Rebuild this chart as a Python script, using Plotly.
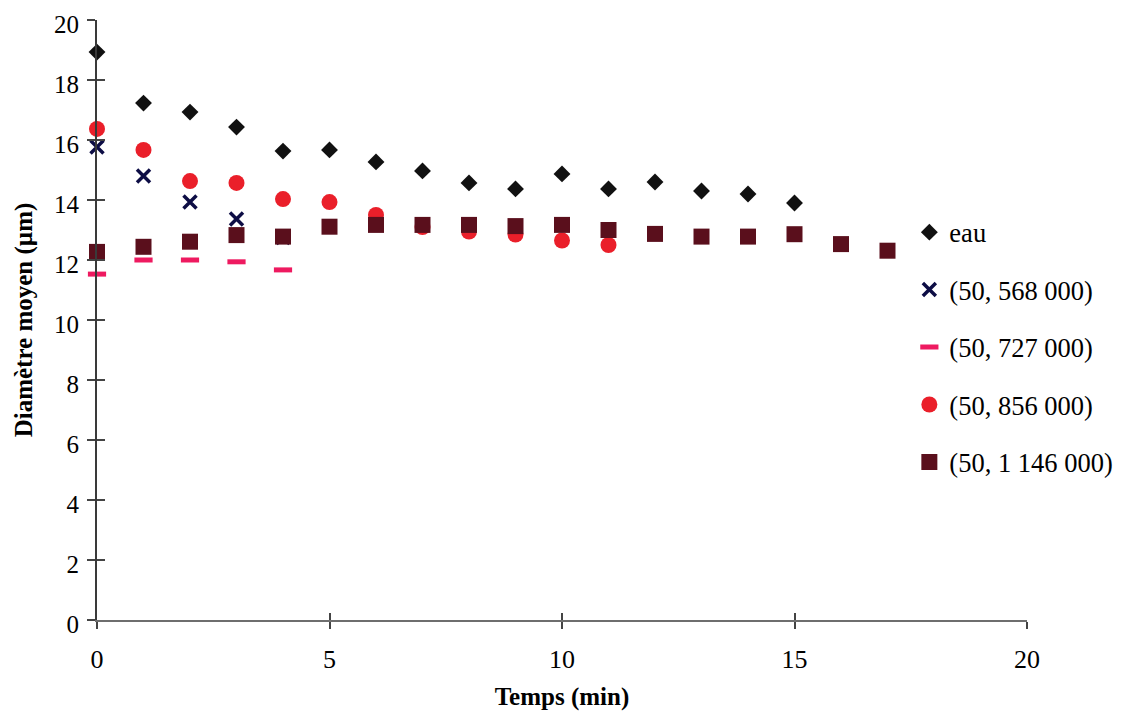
import plotly.graph_objects as go

# Time (min)
t_eau = [0, 1, 2, 3, 4, 5, 6, 7, 8, 9, 10, 11, 12, 13, 14, 15]
d_eau = [18.93, 17.23, 16.93, 16.43, 15.63, 15.67, 15.27, 14.97, 14.57, 14.37, 14.87, 14.37, 14.6, 14.3, 14.2, 13.9]

t_568 = [0, 1, 2, 3, 4]
d_568 = [15.77, 14.8, 13.93, 13.37, 12.75]

t_727 = [0, 1, 2, 3, 4]
d_727 = [11.53, 12.0, 12.0, 11.94, 11.67]

t_856 = [0, 1, 2, 3, 4, 5, 6, 7, 8, 9, 10, 11]
d_856 = [16.37, 15.67, 14.63, 14.57, 14.03, 13.93, 13.5, 13.1, 12.95, 12.85, 12.65, 12.5]

t_1146 = [0, 1, 2, 3, 4, 5, 6, 7, 8, 9, 10, 11, 12, 13, 14, 15, 16, 17]
d_1146 = [12.27, 12.44, 12.61, 12.83, 12.78, 13.11, 13.17, 13.17, 13.17, 13.13, 13.17, 13.0, 12.87, 12.78, 12.78, 12.86, 12.53, 12.31]

names = ["eau", "(50, 568 000)", "(50, 727 000)", "(50, 856 000)", "(50, 1 146 000)"]

FONT = "Liberation Serif, Times New Roman, serif"

fig = go.Figure()
fig.add_trace(go.Scatter(x=t_eau, y=d_eau, mode="markers", name=names[0], legendgroup="a",
                         marker=dict(symbol="diamond", size=13, color="#111111"), cliponaxis=False))
fig.add_trace(go.Scatter(x=t_568, y=d_568, mode="markers", name=names[1], legendgroup="b",
                         marker=dict(symbol="x-thin", size=13, color="#0d0d45",
                                     line=dict(width=3.5, color="#0d0d45")), cliponaxis=False))
fig.add_trace(go.Scatter(x=t_727, y=d_727, mode="markers", name=names[2], legendgroup="c",
                         marker=dict(symbol="line-ew", size=13, color="#ee1a60",
                                     line=dict(width=5, color="#ee1a60")), cliponaxis=False))
fig.add_trace(go.Scatter(x=t_856, y=d_856, mode="markers", name=names[3], legendgroup="d",
                         marker=dict(symbol="circle", size=16, color="#ea1f2a"), cliponaxis=False))
fig.add_trace(go.Scatter(x=t_1146, y=d_1146, mode="markers", name=names[4], legendgroup="e",
                         marker=dict(symbol="square", size=16, color="#5a0f1c"), cliponaxis=False))

# overlay axes for the inner half of crossing ticks
fig.add_trace(go.Scatter(x=t_eau, y=d_eau, mode="markers", xaxis="x2", yaxis="y2",
                         marker=dict(opacity=0), showlegend=False, hoverinfo="skip"))

fig.update_layout(
    width=1124, height=721,
    paper_bgcolor="white", plot_bgcolor="white",
    margin=dict(l=89, r=105, t=12, b=109, autoexpand=False),
    font=dict(family=FONT, size=26, color="black"),
    showlegend=True,
    legend=dict(x=0.8735, y=0.686, xanchor="left", yanchor="top",
                font=dict(family=FONT, size=26.5, color="black"),
                tracegroupgap=20, bgcolor="rgba(0,0,0,0)", itemwidth=30),
    xaxis=dict(range=[0, 20], tickmode="linear", tick0=0, dtick=5, automargin=False,
               showgrid=False, zeroline=False, showline=True, linecolor="#6e6e6e", linewidth=2,
               ticks="outside", ticklen=7, tickwidth=2, tickcolor="#444444", ticklabelstandoff=8,
               ticklabeloverflow="allow",
               tickfont=dict(family=FONT, size=26, color="black"),
               title=dict(text="<b>Temps (min)</b>", font=dict(family=FONT, size=25), standoff=14)),
    yaxis=dict(range=[0, 20], tickmode="linear", tick0=0, dtick=2, automargin=False,
               showgrid=False, zeroline=False, showline=True, linecolor="#3a3a3a", linewidth=2,
               ticks="outside", ticklen=8, tickwidth=2, tickcolor="#444444", ticklabelstandoff=3,
               ticklabeloverflow="allow", ticklabelshift=4,
               tickfont=dict(family=FONT, size=25, color="black"),
               title=dict(text="<b>Diamètre moyen (µm)</b>", font=dict(family=FONT, size=25), standoff=14)),
    xaxis2=dict(range=[0, 20], overlaying="x", anchor="y2", side="bottom", tickmode="linear", tick0=0, dtick=5,
                showgrid=False, zeroline=False, showline=False, ticks="inside", ticklen=7,
                tickwidth=2, tickcolor="#444444", showticklabels=False),
    yaxis2=dict(range=[0, 20], overlaying="y", anchor="x2", side="left", tickmode="linear", tick0=0, dtick=2,
                showgrid=False, zeroline=False, showline=False, ticks="inside", ticklen=8,
                tickwidth=2, tickcolor="#444444", showticklabels=False),
)

fig.write_html("out.html")
